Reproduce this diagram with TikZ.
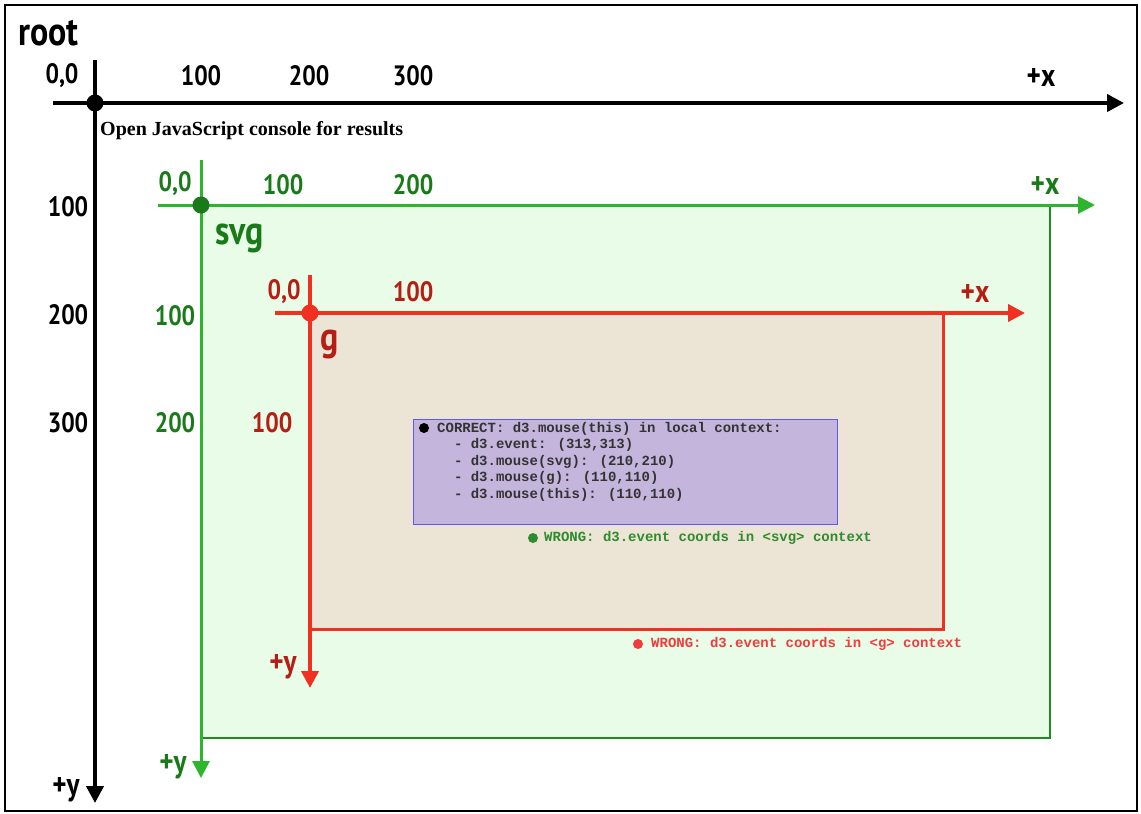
\documentclass[tikz,border=0pt]{standalone}
\usepackage{fontspec}
\usetikzlibrary{arrows.meta}
\newfontfamily\labelfont[FakeStretch=0.85]{PT Sans}
\newfontfamily\consolefont{Liberation Serif}
\newfontfamily\monofont{Liberation Mono}
\definecolor{axisgreen}{HTML}{2DB52D}
\definecolor{labelgreen}{HTML}{1A7A1A}
\definecolor{svgfill}{HTML}{E8FCE8}
\definecolor{svgborder}{HTML}{1E8C1E}
\definecolor{axisred}{HTML}{F03020}
\definecolor{labelred}{HTML}{B41E14}
\definecolor{gfill}{HTML}{ECE4D4}
\definecolor{boxfill}{HTML}{C4B5DC}
\definecolor{boxdraw}{HTML}{5A5AF0}
\definecolor{wronggreen}{HTML}{2E8B2E}
\definecolor{wrongred}{HTML}{F03C3C}

\begin{document}
\begin{tikzpicture}[x=1pt, y=-1pt,
  tick/.style={inner sep=0pt, font=\labelfont\bfseries\fontsize{28}{30}\selectfont},
  dir/.style={inner sep=0pt, font=\labelfont\bfseries\fontsize{32}{34}\selectfont},
  title/.style={inner sep=0pt, font=\labelfont\bfseries\fontsize{40}{42}\selectfont},
  axis/.style={-{Triangle[length=17pt,width=17pt]}, line width=4pt},
  origin/.style={circle, inner sep=0pt, minimum size=17pt},
  mono/.style={inner sep=0pt, font=\monofont\bfseries\fontsize{14}{16.5}\selectfont}
]
\useasboundingbox (0,0) rectangle (1141,814);
\draw[line width=2.5pt] (5,5) rectangle (1137,811);

% root axes
\coordinate (rx0) at (53,103);
\coordinate (rx1) at (1124,103);
\coordinate (ry0) at (95,60);
\coordinate (ry1) at (95,803);
\draw[axis, black] (rx0) -- (rx1);
\draw[axis, black] (ry0) -- (ry1);
\node[origin, fill=black] (rorigin) at (95,103) {};
\node[title, anchor=base west] (root) at (18,45) {root};
\node[tick] (r00) at (62,76) {0,0};
\node[tick] (r100) at (201,76) {100};
\node[tick] (r200) at (309,76) {200};
\node[tick] (r300) at (413,76) {300};
\node[dir] (rplusx) at (1041,77) {+x};
\node[tick] (r100y) at (68,207) {100};
\node[tick] (r200y) at (68,315) {200};
\node[tick] (r300y) at (68,423) {300};
\node[dir, anchor=base] (rplusy) at (66,795) {+y};
\node[inner sep=0pt, anchor=base west, font=\consolefont\bfseries\fontsize{20}{22}\selectfont] (console) at (100,135) {Open JavaScript console for results};

% svg
\fill[svgfill] (201,205) rectangle (1050,738);
\draw[svgborder, line width=2pt] (201,738) -- (1050,738) -- (1050,205);
\coordinate (sx0) at (158,205);
\coordinate (sx1) at (1095,205);
\coordinate (sy0) at (201,160);
\coordinate (sy1) at (201,778);
\draw[axis, axisgreen, line width=3pt] (sx0) -- (sx1);
\draw[axis, axisgreen, line width=3pt] (sy0) -- (sy1);
\node[origin, fill=labelgreen] (sorigin) at (201,205) {};
\node[tick, labelgreen] (s00) at (175,184) {0,0};
\node[tick, labelgreen] (s100) at (283,185) {100};
\node[tick, labelgreen] (s200) at (413,185) {200};
\node[dir, labelgreen] (splusx) at (1045,185) {+x};
\node[title, labelgreen, anchor=base west] (svg) at (215,244) {svg};
\node[tick, labelgreen] (s100y) at (175,316) {100};
\node[tick, labelgreen] (s200y) at (175,423) {200};
\node[dir, labelgreen, anchor=base] (splusy) at (173,772) {+y};

% g
\fill[gfill] (310,313) rectangle (943,629);
\draw[axisred, line width=3pt] (310,629) -- (943,629) -- (943,313);
\coordinate (gx0) at (275,313);
\coordinate (gx1) at (1025,313);
\coordinate (gy0) at (310,275);
\coordinate (gy1) at (310,688);
\draw[axis, axisred] (gx0) -- (gx1);
\draw[axis, axisred] (gy0) -- (gy1);
\node[origin, fill=axisred] (gorigin) at (310,313) {};
\node[tick, labelred] (g00) at (284,292) {0,0};
\node[tick, labelred] (g100) at (413,292) {100};
\node[dir, labelred] (gplusx) at (975,293) {+x};
\node[title, labelred, anchor=base west] (g) at (320,350) {g};
\node[tick, labelred] (g100y) at (272,423) {100};
\node[dir, labelred, anchor=base] (gplusy) at (283,672) {+y};

% results
\draw[fill=boxfill, draw=boxdraw, line width=1pt] (413,419) rectangle (837,524);
\node[mono, anchor=north west, align=left, text=black!80] (correct) at (437,422)
  {CORRECT: d3.mouse(this) in local context:\\
  \ \ - d3.event: (313,313)\\
  \ \ - d3.mouse(svg): (210,210)\\
  \ \ - d3.mouse(g): (110,110)\\
  \ \ - d3.mouse(this): (110,110)};
\fill[black] (424,428) circle (5pt);
\fill[wronggreen] (533,538) circle (5pt);
\node[mono, anchor=west, wronggreen] (wrongsvg) at (544,538) {WRONG: d3.event coords in <svg> context};
\fill[wrongred] (638,644) circle (5pt);
\node[mono, anchor=west, wrongred] (wrongg) at (651,644) {WRONG: d3.event coords in <g> context};
\end{tikzpicture}
\end{document}
